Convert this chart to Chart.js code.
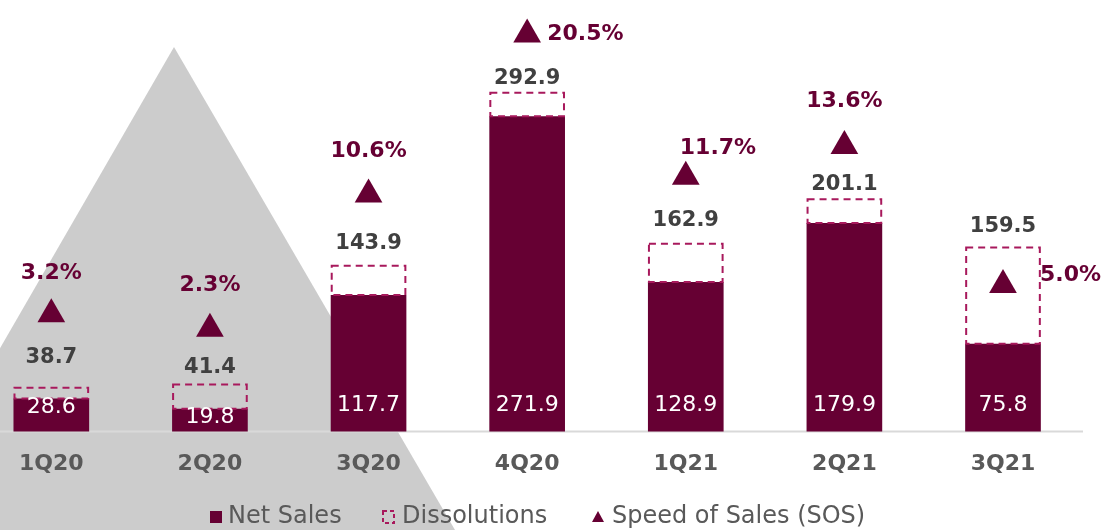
<!DOCTYPE html>
<html>
<head>
<meta charset="utf-8">
<script src="https://cdn.jsdelivr.net/npm/chart.js@4.4.0/dist/chart.umd.min.js"></script>
<style>
  html, body { margin: 0; padding: 0; background: #ffffff; }
  #wrap { width: 1101px; height: 530px; position: relative; }
</style>
</head>
<body>
<div id="wrap"><canvas id="salesChart"></canvas></div>
<script>
const quarters = ['1Q20', '2Q20', '3Q20', '4Q20', '1Q21', '2Q21', '3Q21'];
const netSales = [28.6, 19.8, 117.7, 271.9, 128.9, 179.9, 75.8];
const dissolutions = [10.1, 21.6, 26.2, 21.0, 34.0, 21.2, 83.7];
const grossSales = [38.7, 41.4, 143.9, 292.9, 162.9, 201.1, 159.5];
const speedOfSales = [3.2, 2.3, 10.6, 20.5, 11.7, 13.6, 5.0];

// label placement (not data): [dx, dy, align]
const sosLabelPlace = [[0, -41, 'center'], [0, -43, 'center'], [0, -43, 'center'], [20, 0, 'left'],
  [-6, -28, 'left'], [0, -45, 'center'], [37, -10, 'left']];
const grossLabelDy = [-29, -16, -21, -13, -22, -14, -20];
const legendX = [210, 382, 592];

const MAROON = '#660033';
const DASH = '#a8195c';
const FONT = 'DejaVu Sans';

const decor = {
  id: 'decor',
  beforeDraw(chart) {
    const ctx = chart.ctx;
    ctx.save();
    // grey triangle in the background
    ctx.fillStyle = '#cccccc';
    ctx.beginPath();
    ctx.moveTo(174, 47);
    ctx.lineTo(455, 530);
    ctx.lineTo(-105, 530);
    ctx.closePath();
    ctx.fill();
    // baseline
    const yb = chart.scales.y.getPixelForValue(0);
    ctx.strokeStyle = '#d9d9d9';
    ctx.lineWidth = 2;
    ctx.beginPath();
    ctx.moveTo(0, yb);
    ctx.lineTo(1083, yb);
    ctx.stroke();
    ctx.restore();
  },
  afterDatasetsDraw(chart) {
    const ctx = chart.ctx;
    const netMeta = chart.getDatasetMeta(0);
    const disMeta = chart.getDatasetMeta(1);
    const sosMeta = chart.getDatasetMeta(2);
    ctx.save();

    // dashed dissolution boxes
    ctx.strokeStyle = DASH;
    ctx.lineWidth = 2;
    ctx.setLineDash([7, 5]);
    disMeta.data.forEach(bar => {
      const p = bar.getProps(['x', 'y', 'base', 'width'], true);
      ctx.strokeRect(p.x - p.width / 2 + 1, p.y + 1, p.width - 2, p.base - p.y - 1);
    });
    ctx.setLineDash([]);

    ctx.textAlign = 'center';
    ctx.textBaseline = 'middle';

    // net sales inside bars
    ctx.fillStyle = '#ffffff';
    ctx.font = '22px "' + FONT + '"';
    netMeta.data.forEach((bar, i) => {
      const p = bar.getProps(['x', 'y', 'base'], true);
      const y = Math.max(p.base - 26, p.y + 9);
      ctx.fillText(netSales[i].toFixed(1), p.x, y);
    });

    // gross totals above boxes
    ctx.fillStyle = '#404040';
    ctx.font = 'bold 21px "' + FONT + '"';
    disMeta.data.forEach((bar, i) => {
      const p = bar.getProps(['x', 'y'], true);
      ctx.fillText(grossSales[i].toFixed(1), p.x, p.y + grossLabelDy[i]);
    });

    // speed of sales labels
    ctx.fillStyle = MAROON;
    ctx.font = 'bold 22px "' + FONT + '"';
    sosMeta.data.forEach((pt, i) => {
      const pl = sosLabelPlace[i];
      ctx.textAlign = pl[2];
      ctx.fillText(speedOfSales[i].toFixed(1) + '%', pt.x + pl[0], pt.y + pl[1]);
    });
    ctx.restore();
  },
  afterDraw(chart) {
    // legend
    const ctx = chart.ctx;
    ctx.save();
    ctx.font = '24px "' + FONT + '"';
    ctx.textBaseline = 'middle';
    ctx.textAlign = 'left';
    const cy = 517;
    const names = chart.data.datasets.map(d => d.label);
    names.forEach((name, i) => {
      const x = legendX[i];
      if (i === 0) {
        ctx.fillStyle = MAROON;
        ctx.fillRect(x, cy - 6, 12, 12);
      } else if (i === 1) {
        ctx.strokeStyle = DASH;
        ctx.lineWidth = 2;
        ctx.setLineDash([4, 3]);
        ctx.strokeRect(x + 1, cy - 6, 11, 12);
        ctx.setLineDash([]);
      } else {
        ctx.fillStyle = MAROON;
        ctx.beginPath();
        ctx.moveTo(x + 6, cy - 6);
        ctx.lineTo(x + 12, cy + 5);
        ctx.lineTo(x, cy + 5);
        ctx.closePath();
        ctx.fill();
      }
      ctx.fillStyle = '#595959';
      ctx.fillText(name, x + (i === 0 ? 18 : 20), cy);
    });
    ctx.restore();
  }
};

new Chart(document.getElementById('salesChart').getContext('2d'), {
  type: 'bar',
  data: {
    labels: quarters,
    datasets: [{
      label: 'Net Sales',
      data: netSales,
      backgroundColor: MAROON,
      borderWidth: 0,
      clip: false,
      order: 1,
    }, {
      label: 'Dissolutions',
      data: dissolutions,
      backgroundColor: 'rgba(0,0,0,0)',
      borderWidth: 0,
      clip: false,
      order: 1,
    }, {
      type: 'line',
      label: 'Speed of Sales (SOS)',
      data: speedOfSales,
      yAxisID: 'y2',
      showLine: false,
      clip: false,
      pointStyle: 'triangle',
      pointRadius: 16,
      pointBorderWidth: 0,
      pointBackgroundColor: MAROON,
      pointBorderColor: MAROON,
      order: 0,
    }],
  },
  options: {
    responsive: true,
    maintainAspectRatio: false,
    animation: false,
    barPercentage: 0.477,
    categoryPercentage: 1,
    layout: { padding: { left: 47, right: 98, top: 0, bottom: 34 } },
    plugins: {
      legend: { display: false },
      tooltip: { enabled: false },
    },
    scales: {
      x: {
        offset: false,
        stacked: true,
        grid: { display: false, drawTicks: false },
        border: { display: false },
        ticks: {
          padding: 19,
          color: '#595959',
          autoSkip: false,
          maxRotation: 0,
          font: { family: FONT, size: 22, weight: 'bold' },
        },
      },
      y: { display: false, stacked: true, min: 0, max: 358.3 },
      y2: { display: false, min: -4.06, max: 21.64 },
    },
  },
  plugins: [decor],
});
</script>
</body>
</html>
